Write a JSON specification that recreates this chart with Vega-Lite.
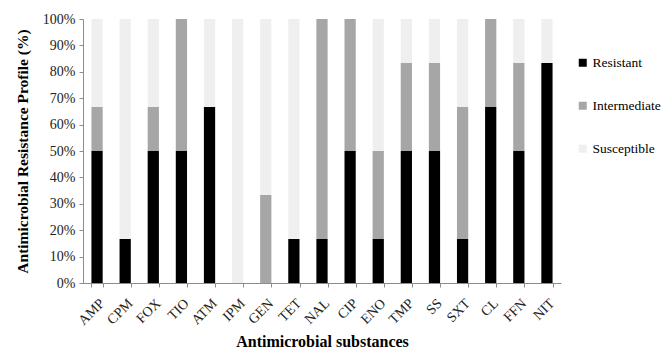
{
  "$schema": "https://vega.github.io/schema/vega-lite/v6.json",
  "width": 478,
  "height": 264,
  "autosize": {"type": "none"},
  "padding": {"left": 83, "top": 19, "right": 100, "bottom": 66},
  "background": "white",
  "config": {
    "view": {"stroke": null},
    "font": "Times New Roman, Liberation Serif, serif",
    "axis": {"grid": false, "domainColor": "#8c8c8c", "tickColor": "#8c8c8c", "labelColor": "#222", "titleColor": "#000", "labelFont": "Times New Roman, Liberation Serif, serif", "titleFont": "Times New Roman, Liberation Serif, serif"},
    "legend": {"labelFont": "Times New Roman, Liberation Serif, serif"}
  },
  "data": {
    "values": [
      {"drug": "AMP", "status": "Resistant", "pct": 50}, {"drug": "AMP", "status": "Intermediate", "pct": 16.67}, {"drug": "AMP", "status": "Susceptible", "pct": 33.33},
      {"drug": "CPM", "status": "Resistant", "pct": 16.67}, {"drug": "CPM", "status": "Intermediate", "pct": 0}, {"drug": "CPM", "status": "Susceptible", "pct": 83.33},
      {"drug": "FOX", "status": "Resistant", "pct": 50}, {"drug": "FOX", "status": "Intermediate", "pct": 16.67}, {"drug": "FOX", "status": "Susceptible", "pct": 33.33},
      {"drug": "TIO", "status": "Resistant", "pct": 50}, {"drug": "TIO", "status": "Intermediate", "pct": 50}, {"drug": "TIO", "status": "Susceptible", "pct": 0},
      {"drug": "ATM", "status": "Resistant", "pct": 66.67}, {"drug": "ATM", "status": "Intermediate", "pct": 0}, {"drug": "ATM", "status": "Susceptible", "pct": 33.33},
      {"drug": "IPM", "status": "Resistant", "pct": 0}, {"drug": "IPM", "status": "Intermediate", "pct": 0}, {"drug": "IPM", "status": "Susceptible", "pct": 100},
      {"drug": "GEN", "status": "Resistant", "pct": 0}, {"drug": "GEN", "status": "Intermediate", "pct": 33.33}, {"drug": "GEN", "status": "Susceptible", "pct": 66.67},
      {"drug": "TET", "status": "Resistant", "pct": 16.67}, {"drug": "TET", "status": "Intermediate", "pct": 0}, {"drug": "TET", "status": "Susceptible", "pct": 83.33},
      {"drug": "NAL", "status": "Resistant", "pct": 16.67}, {"drug": "NAL", "status": "Intermediate", "pct": 83.33}, {"drug": "NAL", "status": "Susceptible", "pct": 0},
      {"drug": "CIP", "status": "Resistant", "pct": 50}, {"drug": "CIP", "status": "Intermediate", "pct": 50}, {"drug": "CIP", "status": "Susceptible", "pct": 0},
      {"drug": "ENO", "status": "Resistant", "pct": 16.67}, {"drug": "ENO", "status": "Intermediate", "pct": 33.33}, {"drug": "ENO", "status": "Susceptible", "pct": 50},
      {"drug": "TMP", "status": "Resistant", "pct": 50}, {"drug": "TMP", "status": "Intermediate", "pct": 33.33}, {"drug": "TMP", "status": "Susceptible", "pct": 16.67},
      {"drug": "SS", "status": "Resistant", "pct": 50}, {"drug": "SS", "status": "Intermediate", "pct": 33.33}, {"drug": "SS", "status": "Susceptible", "pct": 16.67},
      {"drug": "SXT", "status": "Resistant", "pct": 16.67}, {"drug": "SXT", "status": "Intermediate", "pct": 50}, {"drug": "SXT", "status": "Susceptible", "pct": 33.33},
      {"drug": "CL", "status": "Resistant", "pct": 66.67}, {"drug": "CL", "status": "Intermediate", "pct": 33.33}, {"drug": "CL", "status": "Susceptible", "pct": 0},
      {"drug": "FFN", "status": "Resistant", "pct": 50}, {"drug": "FFN", "status": "Intermediate", "pct": 33.33}, {"drug": "FFN", "status": "Susceptible", "pct": 16.67},
      {"drug": "NIT", "status": "Resistant", "pct": 83.33}, {"drug": "NIT", "status": "Intermediate", "pct": 0}, {"drug": "NIT", "status": "Susceptible", "pct": 16.67}
    ]
  },
  "transform": [
    {"calculate": "indexof(['Resistant','Intermediate','Susceptible'], datum.status)", "as": "stackOrder"}
  ],
  "mark": {"type": "bar"},
  "encoding": {
    "x": {
      "field": "drug", "type": "nominal", "sort": null,
      "scale": {"paddingInner": 0.6, "paddingOuter": 0.3},
      "axis": {"title": "Antimicrobial substances", "titleFontSize": 16, "titleFontWeight": "bold", "titlePadding": 6,
               "labelAngle": -45, "labelFontSize": 14, "labelAlign": "right", "labelBaseline": "top", "labelPadding": 9,
               "tickBand": "extent", "tickSize": 4}
    },
    "y": {
      "field": "pct", "type": "quantitative", "stack": "normalize",
      "scale": {"domain": [0, 1]},
      "axis": {"title": "Antimicrobial Resistance Profile (%)", "titleFontSize": 15.5, "titleFontWeight": "bold", "titlePadding": 12,
               "format": ".0%", "values": [0, 0.1, 0.2, 0.3, 0.4, 0.5, 0.6, 0.7, 0.8, 0.9, 1], "labelFontSize": 14, "tickSize": 4, "labelPadding": 4}
    },
    "color": {
      "field": "status", "type": "nominal",
      "scale": {"domain": ["Resistant", "Intermediate", "Susceptible"], "range": ["#000000", "#a6a6a6", "#efefef"]},
      "legend": {"title": null, "orient": "none", "legendX": 493, "legendY": 37, "symbolType": "square", "symbolSize": 64,
                 "symbolStrokeWidth": 0, "labelFontSize": 13.5, "labelColor": "#000", "rowPadding": 28, "labelOffset": 3}
    },
    "order": {"field": "stackOrder", "type": "quantitative"}
  }
}
